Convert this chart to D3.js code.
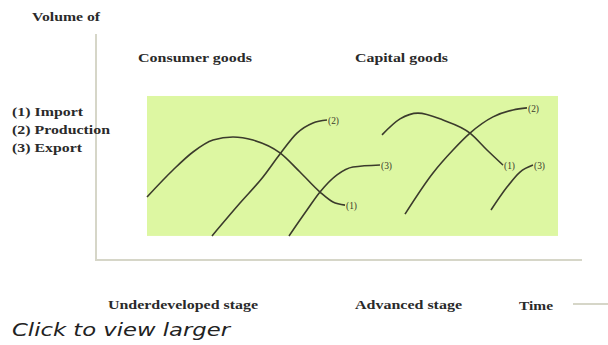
<!DOCTYPE html>
<html lang="en">
<head>
    <meta charset="UTF-8">
    <title>Volume of import, production and export over time</title>
    <script src="https://d3js.org/d3.v7.min.js"></script>
    <style>
        body { margin: 0; background: #fff; }
        .curve {
            fill: none;
            stroke: #3b3b2c;
            stroke-width: 1.6;
        }
        .axis-line {
            stroke: #d6d6c8;
            stroke-width: 2;
        }
    </style>
</head>
<body>
    <svg id="chart" width="608" height="345"></svg>

    <script>
        // time runs 0..100 along x, volume 0..100 along y
        const timeExtent = [0, 97.2];
        const volumeExtent = [0, 100.4];
        const shadedBand = { t: [10.2, 92.4], v: [10.7, 72.9] };

        const legendLabels = ["(1) Import", "(2) Production", "(3) Export"];
        const groupLabels = ["Consumer goods", "Capital goods"];
        const stageLabels = ["Underdeveloped stage", "Advanced stage"];

        // consumer goods curves
        const consumerImport = [
            [10.2, 28], [15.4, 40], [19.4, 48], [23.4, 53.3], [27.4, 54.7], [31.4, 53.3],
            [36.8, 47.6], [40.8, 39.1], [44.8, 30.2], [47.4, 25.8], [49.8, 24.4]
        ];
        const consumerProduction = [
            [23.2, 10.7], [28.8, 25.3], [33.4, 36.9], [36.8, 47.1], [40.2, 56.4], [43.4, 60.9], [46.2, 62.2]
        ];
        const consumerExport = [
            [38.6, 10.7], [42.2, 22.2], [44.8, 30.2], [48.2, 37.8], [51.4, 41.3], [56.8, 42.2]
        ];

        // capital goods curves
        const capitalImport = [
            [57.2, 55.6], [60.8, 62.7], [64.4, 65.3], [69.4, 62.2], [74.8, 56.4], [78.2, 48.9], [81.4, 42.2]
        ];
        const capitalProduction = [
            [61.8, 20.4], [67.4, 38.7], [71.4, 48.9], [74.8, 56.4], [79.4, 63.6], [83.4, 66.7], [86.2, 67.6]
        ];
        const capitalExport = [
            [79, 22.2], [82.2, 32.4], [84.8, 39.1], [87.4, 42.2]
        ];

        const curves = [
            { label: "(1)", pts: consumerImport },
            { label: "(2)", pts: consumerProduction },
            { label: "(3)", pts: consumerExport },
            { label: "(1)", pts: capitalImport },
            { label: "(2)", pts: capitalProduction },
            { label: "(3)", pts: capitalExport }
        ];

        const serif = "'Liberation Serif', 'Times New Roman', Times, serif";

        const svg = d3.select("#chart");

        const x = d3.scaleLinear().domain([0, 100]).range([96, 596]);
        const y = d3.scaleLinear().domain([0, 100]).range([260, 35]);

        // shaded area
        svg.append("rect")
           .attr("x", x(shadedBand.t[0]))
           .attr("y", y(shadedBand.v[1]))
           .attr("width", x(shadedBand.t[1]) - x(shadedBand.t[0]))
           .attr("height", y(shadedBand.v[0]) - y(shadedBand.v[1]))
           .attr("fill", "#ddf7a2");

        // axes
        svg.append("line")
           .attr("class", "axis-line")
           .attr("x1", x(0)).attr("y1", y(volumeExtent[1]))
           .attr("x2", x(0)).attr("y2", y(0) + 1);
        svg.append("line")
           .attr("class", "axis-line")
           .attr("x1", x(0)).attr("y1", y(0))
           .attr("x2", x(timeExtent[1])).attr("y2", y(0));

        // curves
        const line = d3.line()
            .x(d => x(d[0]))
            .y(d => y(d[1]))
            .curve(d3.curveMonotoneX);

        svg.selectAll(".curve")
           .data(curves)
           .enter()
           .append("path")
           .attr("class", "curve")
           .attr("d", d => line(d.pts));

        svg.selectAll(".curve-label")
           .data(curves)
           .enter()
           .append("text")
           .attr("class", "curve-label")
           .attr("font-family", serif)
           .attr("font-size", 11)
           .attr("fill", "#3b3b2c")
           .attr("x", d => x(d.pts[d.pts.length - 1][0]) + 1)
           .attr("y", d => y(d.pts[d.pts.length - 1][1]) + 4)
           .attr("textLength", 11)
           .attr("lengthAdjust", "spacingAndGlyphs")
           .text(d => d.label);

        // titles and labels
        const texts = [
            { t: "Volume of", x: 32, y: 21, w: 68 },
            { t: groupLabels[0], x: 138, y: 62, w: 114 },
            { t: groupLabels[1], x: 355, y: 62, w: 93 },
            { t: legendLabels[0], x: 12, y: 116, w: 71 },
            { t: legendLabels[1], x: 12, y: 134, w: 98 },
            { t: legendLabels[2], x: 12, y: 152, w: 70 },
            { t: stageLabels[0], x: 108, y: 309, w: 150 },
            { t: stageLabels[1], x: 355, y: 309, w: 107 },
            { t: "Time", x: 519, y: 310, w: 34 }
        ];

        svg.selectAll(".bold-label")
           .data(texts)
           .enter()
           .append("text")
           .attr("class", "bold-label")
           .attr("font-family", serif)
           .attr("font-weight", "bold")
           .attr("font-size", 13)
           .attr("fill", "#2a2a2a")
           .attr("x", d => d.x)
           .attr("y", d => d.y)
           .attr("textLength", d => d.w)
           .attr("lengthAdjust", "spacingAndGlyphs")
           .text(d => d.t);

        // the time arrow, cut off by the picture edge
        svg.append("line")
           .attr("class", "axis-line")
           .attr("x1", 573).attr("y1", 304)
           .attr("x2", 608).attr("y2", 304);

        svg.append("text")
           .attr("font-family", "'DejaVu Sans', sans-serif")
           .attr("font-style", "italic")
           .attr("font-size", 17)
           .attr("fill", "#222")
           .attr("x", 12)
           .attr("y", 336)
           .attr("textLength", 218)
           .attr("lengthAdjust", "spacingAndGlyphs")
           .text("Click to view larger");
    </script>
</body>
</html>
